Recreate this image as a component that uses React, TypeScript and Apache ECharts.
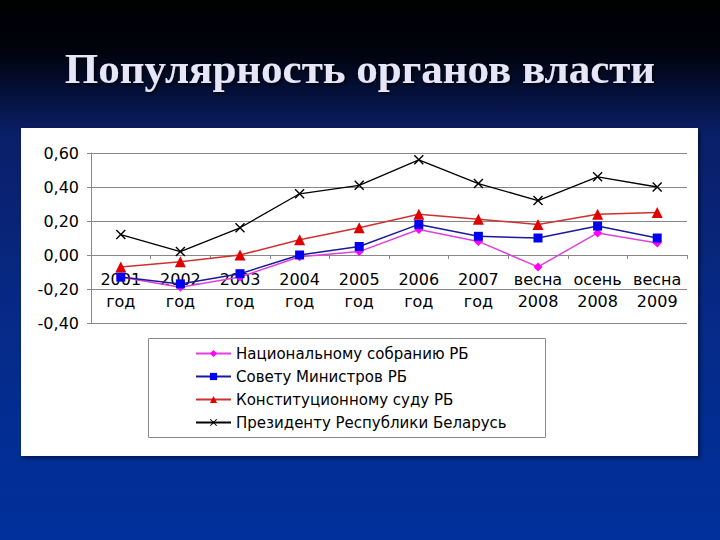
import React, { useEffect, useRef } from "react";
import * as echarts from "echarts";

const titleText = "Популярность органов власти";
const categories = [
  "2001\nгод",
  "2002\nгод",
  "2003\nгод",
  "2004\nгод",
  "2005\nгод",
  "2006\nгод",
  "2007\nгод",
  "весна\n2008",
  "осень\n2008",
  "весна\n2009",
];
const seriesNames = [
  "Национальному собранию РБ",
  "Совету Министров РБ",
  "Конституционному суду РБ",
  "Президенту Республики Беларусь",
];
const nationalAssembly = [-0.13, -0.19, -0.13, -0.01, 0.02, 0.15, 0.08, -0.07, 0.13, 0.07];
const councilOfMinisters = [-0.13, -0.17, -0.11, 0.0, 0.05, 0.18, 0.11, 0.1, 0.17, 0.1];
const constitutionalCourt = [-0.07, -0.04, 0.0, 0.09, 0.16, 0.24, 0.21, 0.18, 0.24, 0.25];
const president = [0.12, 0.02, 0.16, 0.36, 0.41, 0.56, 0.42, 0.32, 0.46, 0.4];

const yMin = -0.4;
const yMax = 0.6;
const yInterval = 0.2;

const crossSymbol =
  "path://M0,1L1,0L5,4L9,0L10,1L6,5L10,9L9,10L5,6L1,10L0,9L4,5Z";

export default function App() {
  const ref = useRef<HTMLDivElement>(null);

  useEffect(() => {
    document.body.style.margin = "0";
    if (!ref.current) return;
    const chart = echarts.init(ref.current, undefined, { renderer: "svg" });
    const font = "DejaVu Sans, Verdana, sans-serif";

    const gridTop = 153;
    const gridBottom = 217;
    const gridHeight = 540 - gridTop - gridBottom;
    // place the category axis where the value axis crosses zero
    const zeroOffset = -(gridHeight * (0 - yMin)) / (yMax - yMin);

    chart.setOption({
      animation: false,
      backgroundColor: new echarts.graphic.LinearGradient(0, 0, 0, 1, [
        { offset: 0, color: "#000000" },
        { offset: 0.1, color: "#00030f" },
        { offset: 0.25, color: "#0a1f68" },
        { offset: 0.6, color: "#062a88" },
        { offset: 1, color: "#00309c" },
      ]),
      title: {
        text: titleText,
        left: "center",
        top: 42,
        textStyle: {
          fontFamily: "Liberation Serif, Times New Roman, serif",
          fontSize: 43,
          fontWeight: "bold",
          color: "#e6e6f6",
          textShadowColor: "rgba(0,0,0,0.6)",
          textShadowBlur: 3,
          textShadowOffsetX: 2,
          textShadowOffsetY: 2,
        },
      },
      graphic: [
        {
          type: "rect",
          z: -10,
          shape: { x: 21, y: 128, width: 677, height: 328 },
          style: {
            fill: "#ffffff",
            shadowColor: "rgba(0,0,0,0.5)",
            shadowBlur: 4,
            shadowOffsetX: 2,
            shadowOffsetY: 2,
          },
        },
        {
          type: "rect",
          z: -9,
          shape: { x: 148.5, y: 338.5, width: 397, height: 99 },
          style: { fill: "none", stroke: "#8a8a8a", lineWidth: 1 },
        },
      ],
      legend: {
        orient: "vertical",
        left: 190,
        top: 341,
        itemWidth: 35,
        itemHeight: 9,
        itemGap: 8,
        textStyle: { fontFamily: font, fontSize: 15, color: "#000" },
        data: seriesNames,
      },
      grid: { left: 91, right: 33, top: gridTop, bottom: gridBottom },
      xAxis: {
        type: "category",
        data: categories,
        offset: zeroOffset,
        axisLine: { onZero: false, lineStyle: { color: "#888", width: 1 } },
        axisTick: { show: true, length: 4, lineStyle: { color: "#888" } },
        axisLabel: {
          interval: 0,
          fontFamily: font,
          fontSize: 16,
          lineHeight: 22,
          margin: 13,
          color: "#000",
        },
      },
      yAxis: {
        type: "value",
        min: yMin,
        max: yMax,
        interval: yInterval,
        axisLine: { show: true, lineStyle: { color: "#888", width: 1 } },
        axisTick: { show: true, length: 4, lineStyle: { color: "#888" } },
        splitLine: { show: true, lineStyle: { color: "#888", width: 1 } },
        axisLabel: {
          fontFamily: font,
          fontSize: 16,
          color: "#000",
          margin: 12,
          formatter: (v: number) => v.toFixed(2).replace(".", ","),
        },
      },
      series: [
        {
          name: seriesNames[0],
          type: "line",
          data: nationalAssembly,
          symbol: "diamond",
          symbolSize: 9,
          lineStyle: { color: "#e040e0", width: 1.5 },
          itemStyle: { color: "#ff00ff" },
          z: 3,
        },
        {
          name: seriesNames[1],
          type: "line",
          data: councilOfMinisters,
          symbol: "rect",
          symbolSize: 9,
          lineStyle: { color: "#1a1a9a", width: 1.5 },
          itemStyle: { color: "#0000ee" },
          z: 4,
        },
        {
          name: seriesNames[2],
          type: "line",
          data: constitutionalCourt,
          symbol: "triangle",
          symbolSize: 11,
          lineStyle: { color: "#d03030", width: 1.5 },
          itemStyle: { color: "#e00000" },
          z: 5,
        },
        {
          name: seriesNames[3],
          type: "line",
          data: president,
          symbol: crossSymbol,
          symbolSize: 10,
          lineStyle: { color: "#000000", width: 1.3 },
          itemStyle: { color: "#000000" },
          z: 6,
        },
      ],
    });

    return () => chart.dispose();
  }, []);

  return <div ref={ref} style={{ width: 720, height: 540 }} />;
}
